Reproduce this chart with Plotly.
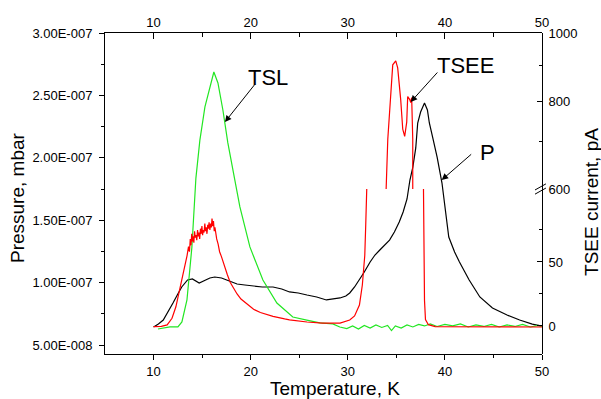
import plotly.graph_objects as go

# Pressure (black), mbar
temp_p = [10.0, 10.5, 11.0, 11.5, 12.0, 12.5, 12.9, 13.5, 14.0, 14.7, 15.3, 15.8, 16.3, 17.0,
          17.8, 18.6, 19.4, 20.2, 21.2, 22.3, 23.2, 24.0, 24.9, 25.8, 26.8, 27.8, 28.5, 29.2,
          29.8, 30.2, 30.7, 31.2, 31.7, 32.3, 32.8, 33.3, 33.8, 34.3, 34.8, 35.3, 35.7, 36.1,
          36.4, 36.7, 37.0, 37.2, 37.5, 37.9, 38.2, 38.4, 38.8, 39.2, 39.7, 40.1, 40.4, 41.0,
          41.5, 42.5, 43.6, 44.9, 46.4, 47.7, 49.0, 50.0]
pressure = [6.44e-8, 6.68e-8, 7.00e-8, 7.64e-8, 8.36e-8, 9.08e-8, 9.65e-8, 1.021e-7, 1.029e-7,
            9.97e-8, 1.021e-7, 1.037e-7, 1.045e-7, 1.037e-7, 1.013e-7, 9.89e-8, 9.81e-8, 9.73e-8,
            9.65e-8, 9.65e-8, 9.49e-8, 9.25e-8, 9.17e-8, 9.01e-8, 8.85e-8, 8.61e-8, 8.69e-8,
            8.77e-8, 8.93e-8, 9.17e-8, 9.65e-8, 1.021e-7, 1.085e-7, 1.165e-7, 1.221e-7, 1.261e-7,
            1.301e-7, 1.341e-7, 1.405e-7, 1.486e-7, 1.566e-7, 1.670e-7, 1.822e-7, 1.926e-7,
            2.079e-7, 2.279e-7, 2.367e-7, 2.439e-7, 2.383e-7, 2.279e-7, 2.143e-7, 2.006e-7,
            1.798e-7, 1.558e-7, 1.365e-7, 1.245e-7, 1.165e-7, 1.021e-7, 8.85e-8, 7.96e-8,
            7.40e-8, 7.00e-8, 6.68e-8, 6.52e-8]

# TSL intensity (green), normalised
temp_tsl = [10.45, 11.0, 11.69, 12.2, 12.51, 12.92, 13.44, 13.95, 14.26, 14.36, 14.77, 15.29,
            16.21, 16.63, 17.14, 17.65, 18.37, 18.89, 19.92, 21.26, 22.70, 24.34, 25.78, 27.12,
            28.46, 29.18, 29.9, 30.5, 31.1, 31.7, 32.3, 32.9, 33.5, 34.1, 34.5, 34.9, 35.5,
            36.1, 36.7, 37.3, 37.9, 38.5, 39.2, 40.0, 40.8, 41.6, 42.4, 43.2, 44.0, 44.8, 45.6,
            46.4, 47.2, 48.0, 48.8, 49.6, 50.0]
tsl = [-0.008, -0.004, 0.0, 0.0, 0.0, 0.02, 0.106, 0.314, 0.498, 0.584, 0.733, 0.863,
       1.0, 0.957, 0.851, 0.722, 0.576, 0.471, 0.314, 0.184, 0.094, 0.039, 0.027, 0.016,
       0.012, 0.0, -0.006, 0.004, -0.008, 0.006, -0.004, 0.008, -0.002, 0.006, -0.014,
       0.004, -0.004, 0.008, 0.0, 0.01, 0.004, 0.012, 0.002, 0.01, 0.004, 0.012, 0.0, 0.008,
       0.002, 0.01, 0.0, 0.008, 0.002, 0.01, 0.0, 0.006, 0.002]

# TSEE current (red), pA
temp_tsee = [10.0, 10.8, 11.4, 11.9, 12.3, 12.6, 12.9, 13.2, 13.45, 13.6, 13.7, 13.78, 13.86,
             13.93, 14.0, 14.08, 14.15, 14.22, 14.3, 14.38, 14.45, 14.53, 14.6, 14.68, 14.75,
             14.83, 14.9, 14.98, 15.05, 15.12, 15.2, 15.28, 15.35, 15.42, 15.5, 15.58, 15.65,
             15.72, 15.8, 15.88, 15.95, 16.02, 16.1, 16.17, 16.25, 16.32, 16.4, 16.5, 16.65,
             16.8, 17.0, 17.15, 17.4, 17.6, 17.9, 18.2, 18.6, 19.0, 19.6, 20.3, 21.0, 22.3,
             23.5, 24.0, 25.8, 27.4, 29.2, 30.2, 30.7, 31.2, 31.5, 31.75, 31.85, 31.95, 32.1,
             33.0, 33.85, 33.95, 34.12, 34.42, 34.63, 34.94, 35.14, 35.45, 35.66, 35.86, 36.07,
             36.17, 36.38, 36.48, 36.58, 36.69, 36.79, 36.89, 37.0, 37.5, 37.78, 37.84, 37.9,
             38.0, 38.3, 39.0, 42.0, 45.0, 50.0]
tsee = [-0.5, -0.3, 0.8, 6, 15, 25, 36, 46, 55, 62, 58, 68, 63,
        72, 66, 70, 65, 74, 69, 71, 67, 75, 70, 73, 68,
        76, 72, 78, 71, 75, 73, 80, 74, 77, 72, 79, 76,
        81, 75, 80, 77, 84, 78, 82, 74, 77, 70, 68, 64,
        58, 54, 50, 44, 40, 34, 30, 25, 21, 17, 13, 10.5, 7.5,
        5.5, 4.8, 3.1, 2.3, 2.3, 4.7, 7.8, 16.4, 32, 55, 79, 102, 160,
        350, 560, 600, 706, 831, 901, 913, 892, 804, 730, 713, 747,
        812, 804, 796, 809, 706, 647, 594, 500, 250, 120, 60, 20,
        5, 1, -0.5, -0.6, -0.8, -0.8]

x_ticks = [10, 20, 30, 40, 50]
p_ticks = [5e-8, 1e-7, 1.5e-7, 2e-7, 2.5e-7, 3e-7]
p_labels = ["5.00E-008", "1.00E-007", "1.50E-007", "2.00E-007", "2.50E-007", "3.00E-007"]
low_ticks = [0, 50]
high_ticks = [600, 800, 1000]

FONT = "Liberation Sans, Arial, sans-serif"
BREAK = 0.514  # fraction of plot height where the current axis is broken

fig = go.Figure()
fig.add_trace(go.Scatter(x=temp_tsl, y=tsl, yaxis="y4", mode="lines",
                         line=dict(color="#22e622", width=1.2), name="TSL"))
fig.add_trace(go.Scatter(x=temp_p, y=pressure, yaxis="y", mode="lines",
                         line=dict(color="black", width=1.2), name="P"))
fig.add_trace(go.Scatter(x=temp_tsee, y=tsee, yaxis="y2", mode="lines",
                         line=dict(color="red", width=1.2), name="TSEE"))
fig.add_trace(go.Scatter(x=temp_tsee, y=tsee, yaxis="y3", mode="lines",
                         line=dict(color="red", width=1.2), name="TSEE", showlegend=False))

tickfont = dict(family=FONT, size=13, color="black")
axis_common = dict(showgrid=False, zeroline=False, showline=True, linecolor="black",
                   linewidth=1, tickcolor="black", tickfont=tickfont)

fig.update_layout(
    width=601, height=399,
    margin=dict(l=105, r=59, t=33, b=45),
    paper_bgcolor="white", plot_bgcolor="rgba(0,0,0,0)",
    showlegend=False,
    font=dict(family=FONT, color="black"),
    xaxis=dict(range=[5, 50], tickvals=x_ticks, ticks="outside", ticklen=5,
               minor=dict(tickvals=[15, 25, 35, 45], ticks="outside", ticklen=3,
                          tickcolor="black"),
               **axis_common),
    xaxis2=dict(range=[5, 50], overlaying="x", side="top", anchor="y", tickvals=x_ticks,
                ticks="inside", ticklen=6,
                minor=dict(tickvals=[15, 25, 35, 45], ticks="inside", ticklen=4,
                           tickcolor="black"),
                **axis_common),
    yaxis=dict(range=[4.28e-8, 3.0e-7], tickvals=p_ticks, ticktext=p_labels,
               ticks="outside", ticklen=5, ticklabelstandoff=4,
               minor=dict(tickvals=[7.5e-8, 1.25e-7, 1.75e-7, 2.25e-7, 2.75e-7],
                          ticks="outside", ticklen=3, tickcolor="black"),
               **axis_common),
    yaxis2=dict(domain=[0, BREAK], range=[-21.9, 107], anchor="x", side="right",
                tickvals=low_ticks, ticks="inside", ticklen=5, ticklabelstandoff=3,
                minor=dict(tickvals=[25, 75], ticks="inside", ticklen=3, tickcolor="black"),
                **axis_common),
    yaxis3=dict(domain=[BREAK, 1], type="log", range=[2.77815, 3.0], anchor="x",
                side="right", tickvals=high_ticks, ticktext=["600", "800", "1000"],
                ticks="inside", ticklen=5, ticklabelstandoff=3,
                minor=dict(tickvals=[700, 900], ticks="inside", ticklen=3, tickcolor="black"),
                **axis_common),
    yaxis4=dict(overlaying="y", visible=False, range=[-0.106, 1.153]),
)

# the x2 axis needs a trace to be drawn
fig.add_trace(go.Scatter(x=[5, 50], y=[None, None], xaxis="x2", yaxis="y",
                         mode="lines", hoverinfo="skip", showlegend=False))

# break marks on the current axis
for dy in (0.0, 0.013):
    fig.add_shape(type="line", xref="paper", yref="paper",
                  x0=0.984, x1=1.009, y0=BREAK - 0.016 + dy, y1=BREAK + 0.003 + dy,
                  line=dict(color="black", width=1))

title_font = dict(family=FONT, size=19, color="black")
label_font = dict(family=FONT, size=22, color="black")
annotations = [
    dict(text="Temperature, K", x=0.526, y=-0.109, xref="paper", yref="paper",
         showarrow=False, font=title_font, xanchor="center", yanchor="middle"),
    dict(text="Pressure, mbar", x=-0.199, y=0.486, xref="paper", yref="paper",
         showarrow=False, font=title_font, textangle=-90, xanchor="center", yanchor="middle"),
    dict(text="TSEE current, pA", x=1.112, y=0.4735, xref="paper", yref="paper",
         showarrow=False, font=title_font, textangle=-90, xanchor="center", yanchor="middle"),
    dict(text="TSL", x=21.77, y=0.9065, xref="x", yref="paper", showarrow=False,
         font=label_font),
    dict(text="TSEE", x=42.14, y=0.944, xref="x", yref="paper", showarrow=False,
         font=label_font),
    dict(text="P", x=44.4, y=0.673, xref="x", yref="paper", showarrow=False,
         font=label_font),
]
# arrows pointing at the curves
for tx, ty, ax, ay in [(17.35, 0.7227, 31, -39), (36.48, 0.785, 28, -31),
                       (39.67, 0.542, 31, -27)]:
    annotations.append(dict(text="", x=tx, y=ty, xref="x", yref="paper", ax=ax, ay=ay,
                            showarrow=True, arrowhead=2, arrowsize=1.3, arrowwidth=1,
                            arrowcolor="black"))
fig.update_layout(annotations=annotations)

fig.write_html("out.html")
